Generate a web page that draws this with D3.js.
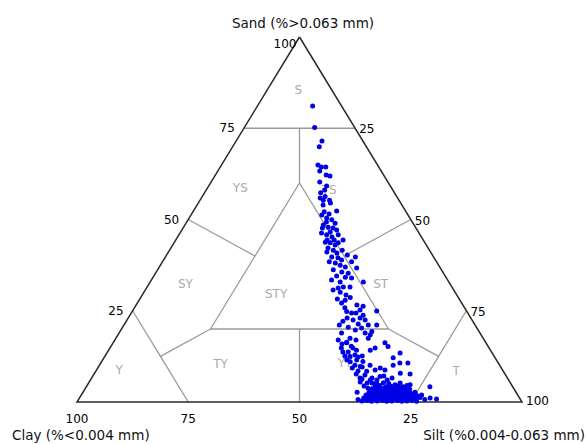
<!DOCTYPE html>
<html>
<head>
<meta charset="utf-8">
<script src="https://d3js.org/d3.v7.min.js"></script>
<style>
    body { margin: 0; background: #fff; }
    svg { display: block; }
    .tick-label { font-family: "DejaVu Sans", sans-serif; font-size: 12px; fill: #000; }
    .axis-title { font-family: "DejaVu Sans", sans-serif; font-size: 13.5px; fill: #111; }
    .zone-label { font-family: "DejaVu Sans", sans-serif; font-size: 12px; fill: #aaa; }
</style>
</head>
<body>
<svg id="chart" width="587" height="444"></svg>
<script>
// sample composition, percent (clay = 100 - sand - silt)
var sand = [
    81.1, 75.2, 71.5, 69.9, 64.9, 64.4, 64.4, 63.3, 62.2, 61.9, 60.3, 59.2, 58.1, 57.3, 55.3, 55.3, 52.3, 55.9, 56.3, 54.5, 54.0,
    51.2, 50.4, 49.9, 49.0, 48.5, 47.9, 47.1, 46.3, 45.8, 45.2, 45.8, 43.8, 43.6, 43.0, 43.6, 42.2, 41.6, 41.1, 40.8, 39.7,
    39.5, 38.9, 39.7, 38.4, 38.1, 37.5, 37.0, 36.7, 36.2, 35.6, 35.3, 34.5, 34.2, 34.0, 33.4, 32.9, 32.9, 31.5, 31.5, 31.2,
    52.1, 51.5, 47.7, 44.4, 44.4, 41.6, 40.3, 38.4,
    49.3, 46.6, 47.7, 44.4, 30.7, 27.9,
    30.1, 29.3, 28.2, 28.6, 27.1, 25.8, 26.6, 26.2, 24.8, 24.4, 25.2, 24.9, 23.8, 22.1, 22.5, 23.0, 22.5, 21.4, 21.1, 21.1,
    20.3, 18.9, 18.9, 18.4, 17.5, 16.4, 17.5, 16.2, 15.2, 15.3, 14.8, 14.2, 14.2, 13.4, 19.3, 19.7, 20.5,
    21.1, 23.0, 24.4, 17.0, 17.0,
    16.2, 14.8, 14.8, 12.1, 10.1, 10.7, 10.7, 7.9, 7.7, 12.5, 11.5, 11.1, 10.1, 9.7, 8.4, 8.8, 7.0, 6.0, 5.2, 4.2, 4.7, 4.2,
    4.7, 4.2, 1.9, 1.1, 0.8, 3.8, 15.9, 13.7, 12.9, 12.6, 12.3, 11.0, 10.1, 9.6, 8.5, 7.4, 6.3, 5.2, 6.6, 8.8, 6.6, 9.3,
    13.7, 11.5, 9.3, 7.7, 5.5, 4.4, 2.7, 6.6, 6.0, 6.0, 7.1, 12.6,
    0.3, 0.4, 0.2, 0.3, 0.4, 0.2, 0.3, 0.4, 0.2, 0.3, 0.4, 0.2,
    0.7, 0.7, 0.7, 0.7, 0.7, 0.7, 0.7, 0.7, 0.7, 0.7, 0.7, 0.7, 0.7,
    1.1, 1.0, 1.2, 1.1, 1.0, 1.2, 1.1, 1.0, 1.2, 1.1, 1.0, 1.2,
    1.5, 1.5, 1.5, 1.5, 1.5, 1.5, 1.5, 1.5, 1.5, 1.5, 1.5,
    1.9, 2.0, 1.8, 1.9, 2.0, 1.8, 1.9, 2.0, 1.8, 1.9, 2.0,
    2.3, 2.3, 2.3, 2.3, 2.3, 2.3, 2.3, 2.3, 2.3,
    2.7, 2.8, 2.6, 2.7, 2.8, 2.6, 2.7, 2.8, 2.6, 2.7,
    3.2, 3.2, 3.2, 3.2, 3.2, 3.2, 3.2,
    3.6, 3.5, 3.7, 3.6, 3.5, 3.7, 3.6, 3.5,
    4.0, 4.0, 4.0, 4.0,
    4.4, 4.5, 4.3, 4.4, 4.5,
    5.2, 5.3, 5.1, 5.2
];
var silt = [
    12.4, 15.8, 19.3, 19.5, 21.7, 22.7, 23.7, 22.9, 24.9, 25.9, 24.4, 26.5, 26.6, 26.1, 29.1, 27.7, 32.2, 26.7, 27.6, 29.7, 28.3,
    29.4, 30.9, 32.3, 33.5, 31.1, 32.5, 34.8, 31.8, 33.2, 34.7, 35.8, 33.9, 35.1, 36.5, 36.9, 35.3, 36.8, 35.6, 38.0, 37.4,
    38.9, 40.0, 42.7, 42.5, 39.0, 40.4, 41.8, 44.5, 39.5, 41.7, 43.3, 41.1, 43.2, 44.7, 40.5, 42.7, 47.9, 45.6, 44.1, 43.1,
    29.5, 30.9, 33.7, 34.0, 37.6, 38.8, 40.6, 37.5,
    31.4, 33.6, 31.3, 35.6, 42.2, 46.3,
    44.1, 45.8, 44.4, 47.1, 45.9, 47.3, 49.6, 51.2, 48.2, 49.5, 51.0, 54.9, 52.4, 48.7, 50.8, 52.1, 53.5, 52.5, 54.9, 56.8,
    53.8, 50.0, 55.3, 56.7, 52.6, 52.4, 56.7, 61.1, 62.3, 54.0, 52.0, 55.7, 58.8, 65.9, 56.6, 52.7, 50.7,
    48.4, 49.2, 50.5, 50.2, 54.2,
    52.5, 54.6, 59.6, 65.0, 66.0, 67.2, 69.0, 68.7, 71.0, 55.1, 57.1, 58.7, 60.8, 58.8, 60.9, 62.6, 64.6, 62.9, 64.7, 67.5, 69.1, 71.2,
    72.5, 77.2, 76.5, 78.8, 80.4, 63.5, 51.6, 54.1, 56.0, 53.9, 57.0, 55.9, 57.4, 59.3, 58.9, 61.0, 60.9, 62.6, 60.3, 64.8, 67.5, 63.5,
    52.9, 54.9, 57.2, 58.9, 60.9, 62.3, 61.6, 63.0, 64.4, 66.7, 65.4, 57.8,
    63.9, 65.0, 66.1, 67.3, 68.4, 69.5, 70.6, 71.8, 72.9, 74.0, 75.1, 76.2,
    62.8, 64.7, 65.8, 66.9, 68.1, 69.2, 70.3, 71.4, 72.6, 73.7, 74.8, 75.9, 77.8,
    63.9, 65.1, 66.2, 67.3, 68.4, 69.6, 70.7, 71.8, 72.9, 74.1, 75.2, 76.5,
    64.8, 65.9, 67.0, 68.1, 69.3, 70.4, 71.5, 72.6, 73.8, 74.9, 76.0,
    64.0, 65.1, 66.2, 67.4, 68.5, 69.6, 70.7, 71.9, 73.0, 74.1, 75.2,
    65.0, 66.2, 67.3, 68.4, 69.5, 70.7, 71.8, 72.9, 74.0,
    64.3, 65.4, 66.5, 67.6, 68.8, 69.9, 71.0, 72.1, 73.3, 74.6,
    65.3, 66.4, 67.7, 68.9, 70.0, 71.1, 72.4,
    64.5, 65.6, 67.0, 68.1, 69.2, 70.3, 71.7, 73.0,
    65.6, 67.2, 69.5, 71.0,
    64.8, 65.8, 68.4, 69.9, 71.9,
    63.7, 66.2, 67.5, 70.0
];

// Shepard class boundaries, as [sand, silt] vertices
var zoneLines = [
    [[75, 25], [75, 0]],
    [[75, 12.5], [60, 20]],
    [[60, 20], [20, 60], [20, 20], [60, 20]],
    [[50, 0], [40, 20]],
    [[50, 50], [40, 40]],
    [[25, 0], [12.5, 12.5], [0, 25]],
    [[20, 20], [12.5, 12.5]],
    [[20, 40], [0, 50]],
    [[20, 60], [12.5, 75]],
    [[25, 75], [12.5, 75], [0, 75]]
];
var zoneNames = ["S", "YS", "TS", "SY", "STY", "ST", "TY", "YT", "Y", "T"];
var zoneSand = [85.5, 58.6, 58.1, 32.5, 29.7, 32.5, 10.5, 10.7, 8.8, 8.6];
var zoneSilt = [7.0, 7.4, 27.6, 8.1, 29.9, 52.0, 27.0, 54.9, 5.1, 80.9];

var sandTicks = [100, 75, 50, 25];
var siltTicks = [25, 50, 75, 100];
var clayTicks = [100, 75, 50, 25];

var svg = d3.select("#chart");

// x runs along the base, y is the sand fraction
var x = d3.scaleLinear().domain([0, 100]).range([77, 522]);
var y = d3.scaleLinear().domain([0, 100]).range([402, 37]);

function px(s, t) { return x(t + s / 2); }
function py(s) { return y(s); }

var line = d3.line()
    .x(function (d) { return px(d[0], d[1]); })
    .y(function (d) { return py(d[0]); });

// class boundaries
svg.append("g").selectAll("path")
    .data(zoneLines)
    .enter().append("path")
    .attr("d", line)
    .attr("fill", "none")
    .attr("stroke", "#9a9a9a")
    .attr("stroke-width", 1.3);

// outline
svg.append("path")
    .attr("d", line([[100, 0], [0, 100], [0, 0], [100, 0]]))
    .attr("fill", "none")
    .attr("stroke", "#2a2a2a")
    .attr("stroke-width", 1.5);

// class names
svg.append("g").selectAll("text")
    .data(zoneNames)
    .enter().append("text")
    .attr("class", "zone-label")
    .attr("x", function (d, i) { return px(zoneSand[i], zoneSilt[i]); })
    .attr("y", function (d, i) { return py(zoneSand[i]); })
    .attr("dy", "0.36em")
    .attr("text-anchor", "middle")
    .text(function (d) { return d; });

// samples
svg.append("g").selectAll("circle")
    .data(sand)
    .enter().append("circle")
    .attr("cx", function (d, i) { return px(d, silt[i]); })
    .attr("cy", function (d) { return py(d); })
    .attr("r", 2.5)
    .attr("fill", "#0000e6");

// tick labels
var ticks = svg.append("g");
ticks.selectAll(".sand")
    .data(sandTicks)
    .enter().append("text")
    .attr("class", "tick-label")
    .attr("x", function (d) { return px(d, 0) - (d == 100 ? 3 : 9); })
    .attr("y", function (d) { return py(d) + (d == 100 ? 11 : 4); })
    .attr("text-anchor", "end")
    .text(function (d) { return d; });
ticks.selectAll(".silt")
    .data(siltTicks)
    .enter().append("text")
    .attr("class", "tick-label")
    .attr("x", function (d) { return px(100 - d, d) + 4; })
    .attr("y", function (d) { return py(100 - d) + (d == 100 ? 3 : 5); })
    .text(function (d) { return d; });
ticks.selectAll(".clay")
    .data(clayTicks)
    .enter().append("text")
    .attr("class", "tick-label")
    .attr("x", function (d) { return px(0, 100 - d); })
    .attr("y", function (d) { return py(0) + 21; })
    .attr("text-anchor", "middle")
    .text(function (d) { return d; });

// axis titles
svg.append("text").attr("class", "axis-title")
    .attr("x", 303).attr("y", 28).attr("text-anchor", "middle")
    .text("Sand (%>0.063 mm)");
svg.append("text").attr("class", "axis-title")
    .attr("x", 12).attr("y", 440)
    .text("Clay (%<0.004 mm)");
svg.append("text").attr("class", "axis-title")
    .attr("x", 585).attr("y", 440).attr("text-anchor", "end")
    .text("Silt (%0.004-0.063 mm)");
</script>
</body>
</html>
